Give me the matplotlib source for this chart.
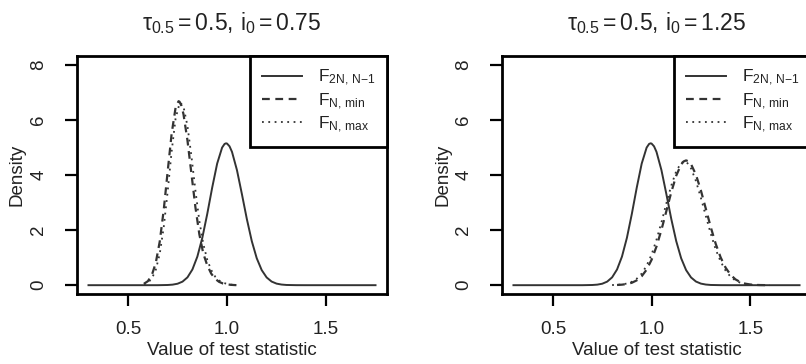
import matplotlib
matplotlib.use("Agg")
import matplotlib.pyplot as plt

plt.rcParams["font.family"] = ["Liberation Sans", "DejaVu Sans"]
plt.rcParams["mathtext.fontset"] = "custom"
plt.rcParams["mathtext.rm"] = "Liberation Sans"
plt.rcParams["mathtext.it"] = "Liberation Sans"
plt.rcParams["mathtext.bf"] = "Liberation Sans:bold"

# density of F_{2N,N-1} (same in both panels)
x_ref = [0.30, 0.65, 0.700, 0.725, 0.750, 0.775, 0.800, 0.825, 0.850, 0.875, 0.900,
         0.925, 0.950, 0.975, 0.9875, 0.995, 1.000, 1.0125, 1.025, 1.050, 1.075,
         1.100, 1.125, 1.150, 1.175, 1.200, 1.225, 1.250, 1.275, 1.300, 1.350,
         1.40, 1.75]
y_ref = [0.0, 0.0, 0.007, 0.020, 0.053, 0.129, 0.284, 0.570, 1.038, 1.719, 2.588,
         3.545, 4.414, 4.995, 5.128, 5.150, 5.141, 5.042, 4.839, 4.178, 3.307,
         2.401, 1.599, 0.977, 0.548, 0.281, 0.132, 0.057, 0.023, 0.008, 0.001,
         0.0, 0.0]

# panel 1: i0 = 0.75
x_min_a = [0.58, 0.60, 0.62, 0.64, 0.66, 0.68, 0.70, 0.72, 0.74, 0.755, 0.76, 0.77,
           0.78, 0.80, 0.82, 0.84, 0.86, 0.88, 0.90, 0.92, 0.94, 0.96, 0.98, 1.00,
           1.02, 1.05]
y_min_a = [0.051, 0.145, 0.365, 0.811, 1.585, 2.724, 4.124, 5.495, 6.445, 6.68, 6.66,
           6.505, 6.204, 5.257, 4.052, 2.841, 1.85, 1.15, 0.72, 0.42, 0.23, 0.12,
           0.06, 0.03, 0.012, 0.0]
x_max_a = [0.58, 0.60, 0.62, 0.64, 0.66, 0.68, 0.70, 0.72, 0.74, 0.76, 0.765, 0.78,
           0.80, 0.82, 0.84, 0.86, 0.88, 0.90, 0.92, 0.94, 0.96, 0.98, 1.00, 1.02, 1.05]
y_max_a = [0.03, 0.09, 0.24, 0.56, 1.14, 2.10, 3.40, 4.85, 6.05, 6.60, 6.62, 6.48,
           5.78, 4.68, 3.45, 2.33, 1.50, 0.92, 0.55, 0.31, 0.17, 0.09, 0.045, 0.02,
           0.005]

# panel 2: i0 = 1.25
x_min_b = [0.825, 0.850, 0.875, 0.900, 0.925, 0.950, 0.975, 1.000, 1.025, 1.050,
           1.075, 1.100, 1.125, 1.150, 1.1625, 1.175, 1.1875, 1.200, 1.225, 1.250,
           1.275, 1.300, 1.325, 1.350, 1.375, 1.400, 1.425, 1.450, 1.475, 1.500,
           1.525, 1.550, 1.60]
y_min_b = [0.008, 0.019, 0.042, 0.088, 0.175, 0.325, 0.565, 0.920, 1.404, 2.008,
           2.692, 3.380, 3.977, 4.385, 4.493, 4.530, 4.495, 4.393, 4.008, 3.438,
           2.775, 2.106, 1.503, 1.010, 0.638, 0.380, 0.212, 0.111, 0.055, 0.026,
           0.011, 0.005, 0.0]
x_max_b = [0.800, 0.825, 0.850, 0.875, 0.900, 0.925, 0.950, 0.975, 1.000, 1.025,
           1.050, 1.075, 1.100, 1.125, 1.150, 1.175, 1.200, 1.225, 1.250, 1.275,
           1.300, 1.325, 1.350, 1.375, 1.400, 1.425, 1.450, 1.475, 1.500, 1.525,
           1.550, 1.60]
y_max_b = [0.005, 0.012, 0.028, 0.060, 0.123, 0.235, 0.42, 0.71, 1.11, 1.65, 2.28,
           2.97, 3.62, 4.14, 4.44, 4.50, 4.24, 3.78, 3.17, 2.51, 1.87, 1.30, 0.86,
           0.53, 0.31, 0.17, 0.088, 0.043, 0.020, 0.009, 0.004, 0.0]

titles = [r"$\tau_{0.5} = 0.5,\,i_0 = 0.75$", r"$\tau_{0.5} = 0.5,\,i_0 = 1.25$"]
labels = [r"$F_{2N,\,N{-}1}$", r"$F_{N,\,min}$", r"$F_{N,\,max}$"]
x_ticks = [0.5, 1.0, 1.5]
x_tick_labels = ["0.5", "1.0", "1.5"]
y_ticks = [0, 2, 4, 6, 8]

W, H = 806, 364
fig = plt.figure(figsize=(W / 100, H / 100), dpi=100)

# axes boxes in pixels (left, top, width, height); right one runs past the edge
boxes = [(77, 56, 310, 238), (502, 56, 309, 238)]
panels = [(x_min_a, y_min_a, x_max_a, y_max_a), (x_min_b, y_min_b, x_max_b, y_max_b)]

line_col = "#333333"
txt_col = "#222222"
fs = 13.5

for (l, t, w, h), title, (xm, ym, xx, yx) in zip(boxes, titles, panels):
    ax = fig.add_axes([l / W, (H - t - h) / H, w / W, h / H])
    ax.plot(x_ref, y_ref, color=line_col, lw=1.4, ls="-", label=labels[0])
    ax.plot(xm, ym, color=line_col, lw=1.6, ls=(0, (3.5, 2.5)), label=labels[1])
    ax.plot(xx, yx, color=line_col, lw=1.3, ls=(0, (1, 2.5)), label=labels[2])

    ax.set_xlim(0.242, 1.808)
    ax.set_ylim(-0.32, 8.32)
    ax.set_xticks(x_ticks)
    ax.set_xticklabels(x_tick_labels)
    ax.set_yticks(y_ticks)
    ax.set_yticklabels([str(v) for v in y_ticks], rotation=90, va="center")
    ax.tick_params(length=8.5, width=1.6, labelsize=fs, colors="black",
                   labelcolor=txt_col)
    ax.tick_params(axis="x", pad=11)
    ax.tick_params(axis="y", pad=13)
    for sp in ax.spines.values():
        sp.set_linewidth(2.0)
        sp.set_color("black")

    ax.set_xlabel("Value of test statistic", fontsize=fs, color=txt_col)
    ax.xaxis.set_label_coords(0.5, -0.2)
    ax.set_ylabel("Density", fontsize=fs, color=txt_col)
    ax.yaxis.set_label_coords(-0.165, 0.5)
    ax.set_title(title, fontsize=16.5, color=txt_col, pad=19)

    leg = ax.legend(loc="upper right", borderaxespad=0, fancybox=False,
                    fontsize=12.5, handlelength=2.3, handletextpad=0.9,
                    labelspacing=0.16, borderpad=0.7, framealpha=1)
    leg.get_frame().set_edgecolor("black")
    leg.get_frame().set_linewidth(2.0)
    for txt in leg.get_texts():
        txt.set_color(txt_col)

fig.savefig("out.png", dpi=100)
